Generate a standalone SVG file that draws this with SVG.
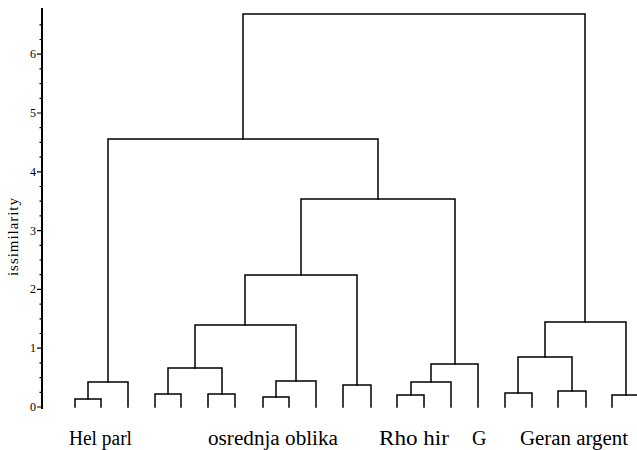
<svg xmlns="http://www.w3.org/2000/svg" width="637" height="450" viewBox="0 0 637 450">
  <style>
    .axis { stroke: #000; stroke-width: 2; fill: none; }
    .tick { stroke: #000; stroke-width: 1.2; fill: none; }
    .link { stroke: #000; stroke-width: 1.5; fill: none; stroke-linecap: square; }
    .num { font-family: "Liberation Serif", "Times New Roman", serif; font-size: 12px; fill: #000; text-anchor: end; }
    .title { font-family: "Liberation Serif", "Times New Roman", serif; font-size: 15px; fill: #000; text-anchor: middle; }
    .leaf { font-family: "Liberation Serif", "Times New Roman", serif; font-size: 20px; fill: #000; }
  </style>
  <rect width="637" height="450" fill="#fff"/>

  <!-- dissimilarity axis: y = 407 - 58.8 * value -->
  <g id="axis">
    <line class="axis" x1="42" y1="8" x2="42" y2="409"/>
    <path class="tick" d="M37 407H42 M37 348.2H42 M37 289.4H42 M37 230.6H42 M37 171.8H42 M37 113H42 M37 54.2H42"/>
    <path class="tick" d="M39.5 392.3H42 M39.5 377.6H42 M39.5 362.9H42
                          M39.5 333.5H42 M39.5 318.8H42 M39.5 304.1H42
                          M39.5 274.7H42 M39.5 260H42 M39.5 245.3H42
                          M39.5 215.9H42 M39.5 201.2H42 M39.5 186.5H42
                          M39.5 157.1H42 M39.5 142.4H42 M39.5 127.7H42
                          M39.5 98.3H42 M39.5 83.6H42 M39.5 68.9H42
                          M39.5 39.5H42 M39.5 24.8H42"/>
    <text class="num" x="36" y="411">0</text>
    <text class="num" x="36" y="352">1</text>
    <text class="num" x="36" y="293">2</text>
    <text class="num" x="36" y="235">3</text>
    <text class="num" x="36" y="176">4</text>
    <text class="num" x="36" y="117">5</text>
    <text class="num" x="36" y="58">6</text>
    <text class="title" transform="translate(18 237) rotate(-90)" textLength="78" lengthAdjust="spacing">issimilarity</text>
  </g>

  <!-- dendrogram links -->
  <g id="connectors">
    <!-- Hel parl -->
    <path class="link" d="M75 407V399H101V407"/>
    <path class="link" d="M88 399V382H128V407"/>
    <!-- osrednja oblika -->
    <path class="link" d="M155 407V394H181V407"/>
    <path class="link" d="M208 407V394H235V407"/>
    <path class="link" d="M168 394V368H222V394"/>
    <path class="link" d="M263 407V397H289V407"/>
    <path class="link" d="M276 397V381H316V407"/>
    <path class="link" d="M195 368V325H296V381"/>
    <path class="link" d="M343 407V385H371V407"/>
    <path class="link" d="M245 325V275H357V385"/>
    <!-- Rho hir / G -->
    <path class="link" d="M397 407V395H424V407"/>
    <path class="link" d="M411 395V382H451V407"/>
    <path class="link" d="M431 382V364H478V407"/>
    <path class="link" d="M301 275V199H455V364"/>
    <path class="link" d="M108 382V139H378V199"/>
    <!-- Geran argent -->
    <path class="link" d="M505 407V393H532V407"/>
    <path class="link" d="M558 407V391H586V407"/>
    <path class="link" d="M518 393V357H572V391"/>
    <path class="link" d="M612 407V395H640"/>
    <path class="link" d="M545 357V322H626V395"/>
    <!-- root -->
    <path class="link" d="M243 139V14H585V322"/>
  </g>

  <!-- group labels -->
  <g id="labels">
    <text class="leaf" x="69" y="445" textLength="63" lengthAdjust="spacingAndGlyphs">Hel parl</text>
    <text class="leaf" x="208" y="445" textLength="130" lengthAdjust="spacingAndGlyphs">osrednja oblika</text>
    <text class="leaf" x="379" y="445" textLength="70" lengthAdjust="spacingAndGlyphs">Rho hir</text>
    <text class="leaf" x="472" y="445">G</text>
    <text class="leaf" x="520" y="445" textLength="108" lengthAdjust="spacingAndGlyphs">Geran argent</text>
  </g>
</svg>
